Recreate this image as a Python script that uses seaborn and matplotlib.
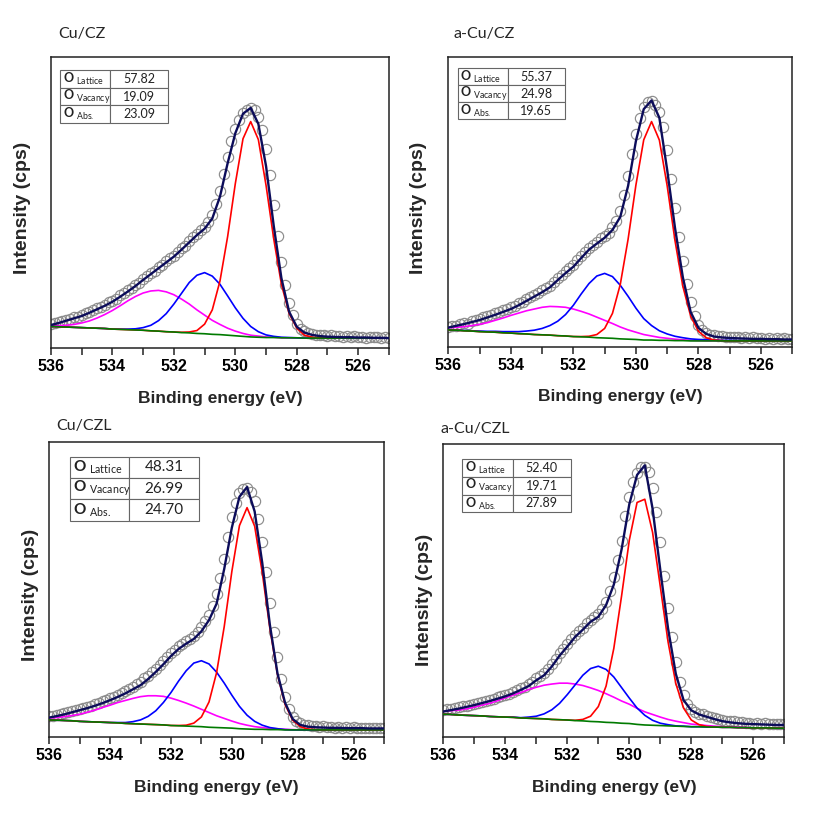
import numpy as np
import matplotlib
matplotlib.use("Agg")
import matplotlib.pyplot as plt
import seaborn as sns

# binding energy grids (eV): fit/components every 0.25 eV, measured points every 0.125 eV
energy_fit = np.arange(536.0, 524.99, -0.25)
energy_data = np.arange(536.0, 524.99, -0.125)

titles = ["Cu/CZ", "a-Cu/CZ", "Cu/CZL", "a-Cu/CZL"]
o_lattice = [57.82, 55.37, 48.31, 52.40]
o_vacancy = [19.09, 24.98, 26.99, 19.71]
o_abs = [23.09, 19.65, 24.70, 27.89]

# ---- Cu/CZ ----
cz_base = [7.4, 7.3, 7.2, 7.1, 7.0, 6.9, 6.8, 6.7, 6.5, 6.4, 6.3, 6.2, 6.1, 5.9, 5.8,
           5.6, 5.5, 5.3, 5.2, 5.0, 4.9, 4.7, 4.6, 4.4, 4.2, 4.0, 3.8, 3.7, 3.6, 3.6,
           3.5, 3.5, 3.5, 3.4, 3.4, 3.4, 3.4, 3.4, 3.4, 3.4, 3.4, 3.4, 3.4, 3.4, 3.4]
cz_red = [0, 0, 0, 0, 0, 0, 0, 0, 0, 0, 0, 0, 0, 0, 0, 0, 0, 0.1, 0.3, 1.0, 3.3, 8.4,
          18.4, 33.9, 52.3, 67.9, 74.0, 67.9, 52.3, 33.9, 18.4, 8.4, 3.3, 1.0, 0.3, 0.1,
          0, 0, 0, 0, 0, 0, 0, 0, 0]
cz_blue = [0, 0, 0, 0, 0, 0, 0, 0, 0, 0.1, 0.2, 0.4, 0.9, 1.9, 3.6, 6.2, 9.6, 13.5, 17.3,
           20.0, 21.0, 20.0, 17.3, 13.5, 9.6, 6.2, 3.6, 1.9, 0.9, 0.4, 0.2, 0.1,
           0, 0, 0, 0, 0, 0, 0, 0, 0, 0, 0, 0, 0]
cz_mag = [0.2, 0.4, 0.6, 1.0, 1.6, 2.4, 3.5, 4.8, 6.4, 8.1, 9.9, 11.5, 12.8, 13.7, 14.0,
          13.7, 12.8, 11.5, 9.9, 8.1, 6.4, 4.8, 3.5, 2.4, 1.6, 1.0, 0.6, 0.4, 0.2, 0.1,
          0, 0, 0, 0, 0, 0, 0, 0, 0, 0, 0, 0, 0, 0, 0]
cz_fit = [7.9, 8.6, 9.4, 10.2, 11.0, 12.1, 13.3, 14.5, 15.9, 17.6, 19.4, 21.3, 23.4, 25.4,
          27.4, 29.4, 31.4, 33.8, 36.3, 38.8, 41.0, 44.5, 52.0, 63.5, 73.8, 80.5, 82.5,
          77.0, 62.5, 42.0, 24.0, 12.5, 7.3, 5.3, 4.5, 4.1, 3.9, 3.8, 3.7, 3.7, 3.6, 3.6,
          3.5, 3.5, 3.4]
cz_measured = [8.3, 8.5, 8.9, 9.4, 9.6, 10.1, 10.5, 10.7,
               11.4, 11.9, 12.3, 13.1, 13.7, 14.1, 14.9, 15.7,
               16.3, 17.0, 18.1, 18.8, 19.9, 20.6, 21.8, 22.5,
               23.8, 24.9, 25.8, 26.6, 27.9, 28.6, 29.8, 30.9,
               31.7, 33.0, 34.3, 35.2, 36.8, 38.0, 39.1, 40.5,
               41.6, 43.4, 45.8, 49.5, 54.0, 59.8, 65.5, 71.0,
               75.3, 78.5, 80.8, 81.9, 82.4, 81.8, 79.5, 75.0,
               68.5, 59.5, 49.0, 38.5, 29.5, 21.5, 15.5, 11.2,
               8.4, 6.7, 5.7, 5.1, 4.7, 4.6, 4.3, 4.4,
               4.1, 4.3, 4.0, 4.2, 3.9, 4.1, 3.8, 4.0,
               3.8, 3.9, 3.6, 3.9, 3.7, 3.8, 3.5, 3.7,
               3.6]

# ---- a-Cu/CZ ----
acz_base = [5.8, 5.7, 5.5, 5.4, 5.2, 5.1, 5.0, 4.8, 4.7, 4.5, 4.4, 4.2, 4.1, 4.0, 3.8,
            3.7, 3.5, 3.4, 3.3, 3.1, 3.0, 2.9, 2.7, 2.6, 2.5, 2.3, 2.3, 2.2, 2.2, 2.1,
            2.1, 2.0, 2.0, 2.0, 2.0, 2.0, 2.0, 2.0, 2.0, 2.0, 2.0, 2.0, 2.0, 2.0, 2.0]
acz_red = [0, 0, 0, 0, 0, 0, 0, 0, 0, 0, 0, 0, 0, 0, 0, 0, 0, 0.1, 0.3, 1.1, 3.3, 8.6,
           18.8, 34.5, 53.3, 69.1, 75.4, 69.1, 53.3, 34.5, 18.8, 8.6, 3.3, 1.1, 0.3, 0.1,
           0, 0, 0, 0, 0, 0, 0, 0, 0]
acz_blue = [0, 0, 0.1, 0.1, 0.2, 0.2, 0.3, 0.4, 0.5, 0.7, 1.0, 1.5, 2.2, 3.3, 5.0, 7.4,
            10.8, 14.8, 18.5, 21.3, 22.3, 21.3, 18.5, 14.8, 10.8, 7.4, 5.0, 3.3, 2.2, 1.5,
            1.0, 0.7, 0.5, 0.4, 0.3, 0.2, 0.2, 0.1, 0.1, 0, 0, 0, 0, 0, 0]
acz_mag = [0.7, 1.0, 1.4, 1.9, 2.5, 3.2, 4.1, 5.1, 6.1, 7.1, 8.0, 8.8, 9.5, 9.9, 10.0,
           9.9, 9.5, 8.8, 8.0, 7.1, 6.1, 5.1, 4.1, 3.2, 2.5, 1.9, 1.4, 1.0, 0.7, 0.5,
           0.3, 0.2, 0.1, 0, 0, 0, 0, 0, 0, 0, 0, 0, 0, 0, 0]
acz_fit = [6.6, 7.2, 7.8, 8.5, 9.2, 10.1, 11.0, 12.0, 13.0, 14.3, 15.8, 17.3, 18.8, 20.5,
           23.0, 25.4, 27.6, 30.6, 33.5, 35.6, 37.6, 40.3, 44.8, 55.5, 71.0, 82.0, 85.0,
           79.0, 61.0, 41.0, 24.0, 12.0, 6.5, 4.4, 3.5, 3.2, 3.0, 2.9, 2.8, 2.7, 2.7, 2.6,
           2.6, 2.5, 2.5]
acz_measured = [6.9, 7.3, 7.0, 7.8, 8.2, 8.0, 8.9, 9.1,
                9.4, 10.2, 10.6, 10.9, 11.6, 11.9, 12.6, 13.1,
                13.6, 14.2, 15.0, 15.6, 16.5, 17.1, 18.0, 18.6,
                19.5, 20.2, 21.0, 22.5, 23.8, 24.6, 26.1, 27.0,
                28.3, 29.8, 31.3, 32.7, 34.1, 35.0, 36.3, 37.4,
                38.3, 39.4, 41.2, 43.5, 47.0, 52.5, 59.0, 66.5,
                73.5, 79.0, 82.8, 84.5, 84.7, 83.5, 81.0, 76.0,
                68.0, 58.0, 48.0, 38.0, 29.5, 21.5, 15.5, 10.5,
                7.5, 5.8, 4.8, 4.2, 3.9, 3.6, 3.7, 3.4,
                3.5, 3.2, 3.4, 3.1, 3.3, 3.0, 3.2, 2.9,
                3.1, 2.8, 3.0, 2.7, 2.9, 2.6, 2.9, 2.6,
                2.8]

# ---- Cu/CZL ----
czl_base = [5.7, 5.6, 5.5, 5.4, 5.2, 5.1, 5.0, 4.9, 4.8, 4.7, 4.5, 4.4, 4.3, 4.2, 4.1,
            4.0, 3.8, 3.7, 3.6, 3.5, 3.4, 3.2, 3.1, 3.0, 2.9, 2.7, 2.6, 2.5, 2.5, 2.4,
            2.4, 2.3, 2.3, 2.3, 2.3, 2.3, 2.3, 2.3, 2.3, 2.3, 2.3, 2.3, 2.3, 2.3, 2.3]
czl_red = [0, 0, 0, 0, 0, 0, 0, 0, 0, 0, 0, 0, 0, 0, 0, 0, 0, 0.1, 0.3, 1.1, 3.3, 8.6,
           18.7, 34.4, 53.2, 69.0, 75.2, 69.0, 53.2, 34.4, 18.7, 8.6, 3.3, 1.1, 0.3, 0.1,
           0, 0, 0, 0, 0, 0, 0, 0, 0]
czl_blue = [0, 0, 0, 0, 0, 0, 0, 0, 0, 0.1, 0.3, 0.7, 1.4, 2.7, 4.7, 7.6, 11.2, 15.2, 18.8,
            21.5, 22.4, 21.5, 18.8, 15.2, 11.2, 7.6, 4.7, 2.7, 1.4, 0.7, 0.3, 0.1,
            0, 0, 0, 0, 0, 0, 0, 0, 0, 0, 0, 0, 0]
czl_mag = [0.6, 0.9, 1.3, 1.8, 2.4, 3.2, 4.0, 5.0, 5.9, 6.9, 7.8, 8.6, 9.3, 9.7, 9.8,
           9.7, 9.3, 8.6, 7.8, 6.9, 5.9, 5.0, 4.0, 3.2, 2.4, 1.8, 1.3, 0.9, 0.6, 0.4,
           0.3, 0.2, 0.1, 0, 0, 0, 0, 0, 0, 0, 0, 0, 0, 0, 0]
czl_fit = [6.5, 7.0, 7.6, 8.3, 9.0, 9.7, 10.5, 11.4, 12.4, 13.5, 14.7, 16.1, 17.5, 19.6,
           22.0, 24.6, 27.4, 29.8, 31.6, 33.2, 35.8, 39.6, 45.2, 57.0, 71.0, 81.5, 84.8,
           76.5, 59.0, 38.0, 21.5, 11.5, 6.0, 4.0, 3.4, 3.2, 3.1, 3.0, 3.0, 2.9, 2.9, 2.9,
           2.8, 2.8, 2.8]
czl_measured = [6.9, 7.1, 7.4, 7.6, 8.1, 8.3, 8.8, 9.0,
                9.5, 9.8, 10.2, 10.5, 11.1, 11.5, 12.0, 12.6,
                13.0, 13.6, 14.1, 14.9, 15.4, 16.3, 16.9, 17.9,
                18.5, 19.8, 20.6, 21.9, 23.0, 24.3, 25.6, 27.0,
                28.4, 29.6, 30.7, 31.6, 32.4, 33.3, 34.2, 35.6,
                37.3, 39.2, 41.5, 44.5, 48.5, 54.0, 60.5, 68.0,
                74.5, 79.5, 82.8, 84.3, 84.5, 83.0, 80.0, 74.0,
                66.0, 56.0, 45.5, 35.5, 27.0, 19.5, 13.5, 9.5,
                6.8, 5.3, 4.5, 4.0, 3.8, 3.5, 3.6, 3.3,
                3.5, 3.2, 3.4, 3.1, 3.3, 3.0, 3.2, 3.0,
                3.2, 2.9, 3.1, 2.9, 3.1, 2.8, 3.0, 2.8,
                3.0]

# ---- a-Cu/CZL ----
aczl_base = [7.7, 7.6, 7.4, 7.3, 7.2, 7.1, 6.9, 6.8, 6.7, 6.6, 6.4, 6.3, 6.2, 6.1, 5.9,
             5.8, 5.7, 5.5, 5.4, 5.2, 5.1, 4.9, 4.8, 4.6, 4.5, 4.2, 4.0, 3.9, 3.8, 3.7,
             3.6, 3.5, 3.4, 3.4, 3.3, 3.3, 3.2, 3.2, 3.1, 3.1, 3.0, 3.0, 3.0, 2.9, 2.9]
aczl_red = [0, 0, 0, 0, 0, 0, 0, 0, 0, 0, 0, 0, 0, 0, 0, 0, 0, 0.1, 0.5, 1.8, 5.2, 12.4,
            25.4, 43.5, 62.7, 75.9, 77.2, 66.0, 47.5, 28.7, 14.6, 6.3, 2.3, 0.7, 0.2,
            0, 0, 0, 0, 0, 0, 0, 0, 0, 0]
aczl_blue = [0, 0, 0, 0, 0, 0, 0, 0, 0, 0.1, 0.1, 0.4, 0.8, 1.7, 3.3, 5.6, 8.7, 12.2, 15.6,
             18.1, 19.0, 18.1, 15.6, 12.2, 8.7, 5.6, 3.3, 1.7, 0.8, 0.4, 0.1, 0.1,
             0, 0, 0, 0, 0, 0, 0, 0, 0, 0, 0, 0, 0]
aczl_mag = [0.9, 1.3, 1.7, 2.2, 2.9, 3.7, 4.5, 5.5, 6.6, 7.6, 8.7, 9.8, 10.7, 11.5, 12.1,
            12.5, 12.6, 12.5, 12.1, 11.5, 10.7, 9.8, 8.7, 7.6, 6.6, 5.5, 4.5, 3.7, 2.9,
            2.2, 1.7, 1.3, 0.9, 0.7, 0.5, 0.3, 0.2, 0.1, 0.1, 0, 0, 0, 0, 0, 0]
aczl_fit = [8.6, 9.1, 9.6, 10.2, 10.8, 11.5, 12.2, 13.0, 13.8, 14.8, 16.0, 17.3, 19.3,
            21.0, 24.0, 27.7, 30.8, 34.1, 36.6, 39.3, 41.0, 45.0, 52.0, 64.0, 79.5, 89.5,
            92.8, 78.0, 57.0, 37.0, 21.5, 12.5, 9.0, 7.6, 6.8, 6.0, 5.3, 4.9, 4.6, 4.4,
            4.3, 4.2, 4.1, 4.0, 4.0]
aczl_measured = [9.0, 9.3, 9.5, 9.9, 10.1, 10.5, 10.6, 11.0,
                 11.2, 11.5, 11.9, 12.2, 12.6, 13.0, 13.4, 13.8,
                 14.3, 14.7, 15.3, 15.9, 16.5, 17.0, 17.9, 18.8,
                 19.9, 20.8, 21.8, 23.3, 24.8, 26.4, 28.5, 30.0,
                 31.6, 33.3, 34.8, 36.0, 37.3, 38.8, 40.0, 41.0,
                 42.0, 43.5, 46.0, 49.8, 54.5, 60.5, 67.0, 75.5,
                 82.0, 87.0, 90.3, 92.2, 92.3, 90.5, 85.0, 77.0,
                 66.5, 55.0, 44.0, 34.0, 25.5, 18.8, 14.2, 11.3,
                 9.6, 8.6, 7.9, 7.6, 7.0, 6.9, 6.3, 6.1,
                 5.6, 5.5, 5.2, 5.3, 4.9, 5.0, 4.7, 4.8,
                 4.5, 4.7, 4.4, 4.6, 4.3, 4.5, 4.2, 4.4,
                 4.2]

bases = [cz_base, acz_base, czl_base, aczl_base]
reds = [cz_red, acz_red, czl_red, aczl_red]
blues = [cz_blue, acz_blue, czl_blue, aczl_blue]
mags = [cz_mag, acz_mag, czl_mag, aczl_mag]
fits = [cz_fit, acz_fit, czl_fit, aczl_fit]
measured = [cz_measured, acz_measured, czl_measured, aczl_measured]

# layout (figure fractions / axes fractions)
axes_rects = [[0.0627, 0.5730, 0.4157, 0.3571],
              [0.5514, 0.5746, 0.4231, 0.3555],
              [0.0606, 0.0961, 0.4117, 0.3612],
              [0.5453, 0.0961, 0.4194, 0.3588]]
table_boxes = [[0.027, 0.773, 0.320, 0.182],
               [0.028, 0.785, 0.311, 0.176],
               [0.062, 0.734, 0.385, 0.217],
               [0.056, 0.767, 0.318, 0.183]]
table_split = [0.463, 0.467, 0.457, 0.463]
table_fs = [9, 9, 11, 9]
title_pos = [(58, 34), (453, 34), (56, 426), (440, 429)]
ylabel_pos = [(-0.058, 0.481), (-0.062, 0.478), (-0.030, 0.481), (-0.030, 0.469)]

sns.set_theme(style="ticks")
plt.rcParams["font.family"] = ["Liberation Sans", "DejaVu Sans"]
plt.rcParams["mathtext.fontset"] = "custom"
plt.rcParams["mathtext.rm"] = "Lato"
plt.rcParams["axes.edgecolor"] = "#222222"
plt.rcParams["axes.linewidth"] = 1.1
plt.rcParams["lines.solid_joinstyle"] = "round"

fig = plt.figure(figsize=(8.13, 8.15), dpi=100)
major = [536, 534, 532, 530, 528, 526]
minor = [535, 533, 531, 529, 527, 525]

for k in range(4):
    ax = fig.add_axes(axes_rects[k])
    base = np.array(bases[k])

    sns.lineplot(x=energy_data, y=measured[k], ax=ax, estimator=None, sort=False,
                 linestyle="none", marker="o", markersize=7.4,
                 markerfacecolor="none", markeredgecolor="#8c8c8c",
                 markeredgewidth=0.85, zorder=1)
    sns.lineplot(x=energy_fit, y=base + np.array(mags[k]), ax=ax, estimator=None,
                 sort=False, color="#ff00ff", lw=1.2, zorder=2)
    sns.lineplot(x=energy_fit, y=base + np.array(blues[k]), ax=ax, estimator=None,
                 sort=False, color="#0000ff", lw=1.2, zorder=3)
    sns.lineplot(x=energy_fit, y=base + np.array(reds[k]), ax=ax, estimator=None,
                 sort=False, color="#ff0000", lw=1.2, zorder=4)
    sns.lineplot(x=energy_fit, y=base, ax=ax, estimator=None, sort=False,
                 color="#007a00", lw=1.2, zorder=5)
    sns.lineplot(x=energy_fit, y=fits[k], ax=ax, estimator=None, sort=False,
                 color="#0c0c5a", lw=1.7, zorder=6)

    ax.set_xlim(536, 525)
    ax.set_ylim(0, 100)
    ax.set_yticks([])
    ax.set_xticks(major, labels=[str(t) for t in major], fontsize=11.5, fontweight="bold")
    ax.set_xticks(minor, minor=True)
    ax.tick_params(axis="x", which="both", length=5, width=1.1, direction="out",
                   pad=3, colors="#222222")
    ax.tick_params(axis="x", labelcolor="black")

    ax.set_xlabel("Binding energy (eV)", fontsize=12.5, fontweight="bold")
    ax.xaxis.set_label_coords(0.5, -0.147)
    ax.set_ylabel("Intensity (cps)", fontsize=14, fontweight="bold")
    ax.yaxis.set_label_coords(*ylabel_pos[k])

    fig.text(title_pos[k][0] / 813, 1 - title_pos[k][1] / 815, titles[k],
             fontsize=11.5, family="Lato", ha="left", va="center")

    rows = [["O $_{\\mathrm{Lattice}}$", f"{o_lattice[k]:.2f}"],
            ["O $_{\\mathrm{Vacancy}}$", f"{o_vacancy[k]:.2f}"],
            ["O $_{\\mathrm{Abs.}}$", f"{o_abs[k]:.2f}"]]
    tbl = ax.table(cellText=rows, bbox=table_boxes[k],
                   colWidths=[table_split[k], 1 - table_split[k]],
                   cellLoc="center", zorder=8)
    tbl.auto_set_font_size(False)
    tbl.set_fontsize(table_fs[k])
    for (r, c), cell in tbl.get_celld().items():
        cell.set_edgecolor("#666666")
        cell.set_linewidth(0.8)
        cell.set_facecolor("white")
        txt = cell.get_text()
        txt.set_fontfamily("Lato")
        txt.set_color("#222222")
        if c == 0:
            cell.PAD = 0.05
            txt.set_horizontalalignment("left")
            txt.set_fontweight("bold")

fig.savefig("out.png", dpi=100)
